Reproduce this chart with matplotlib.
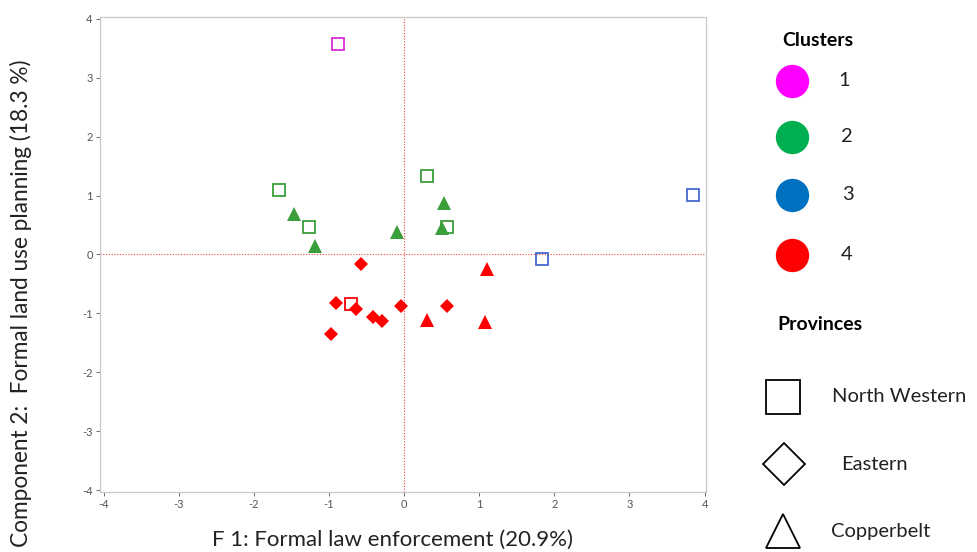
import matplotlib
matplotlib.use("Agg")
import matplotlib.pyplot as plt

plt.rcParams["font.family"] = ["Lato", "DejaVu Sans"]
plt.rcParams["axes.unicode_minus"] = False

# cluster colours (plot markers) and legend colours
CLUSTER_NAMES = ["1", "2", "3", "4"]
MARK_COLORS = ["#D62FD6", "#3A9E3A", "#4468D0", "#FF0000"]
LEGEND_COLORS = ["#FF00FF", "#00B050", "#0070C0", "#FF0000"]

PROVINCES = ["North Western", "Eastern", "Copperbelt"]

# North Western (hollow squares): (x, y, cluster)
nw_x = [-0.88, -1.66, -1.27, 0.30, 0.57, 1.83, 3.85, -0.71]
nw_y = [3.57, 1.10, 0.46, 1.33, 0.47, -0.08, 1.01, -0.84]
nw_c = [1, 2, 2, 2, 2, 3, 3, 4]

# Eastern (filled diamonds)
ea_x = [-0.57, -0.90, -0.64, -0.42, -0.30, -0.04, 0.57, -0.97]
ea_y = [-0.16, -0.82, -0.93, -1.06, -1.13, -0.87, -0.87, -1.35]
ea_c = [4, 4, 4, 4, 4, 4, 4, 4]

# Copperbelt (filled triangles)
cb_x = [-1.46, -1.19, -0.10, 0.53, 0.51, 1.11, 0.31, 1.08]
cb_y = [0.69, 0.14, 0.38, 0.88, 0.45, -0.25, -1.12, -1.15]
cb_c = [2, 2, 2, 2, 2, 4, 4, 4]

X_TICKS = [-4, -3, -2, -1, 0, 1, 2, 3, 4]
Y_TICKS = [-4, -3, -2, -1, 0, 1, 2, 3, 4]

fig = plt.figure(figsize=(9.78, 5.52), dpi=100)
ax = fig.add_axes([0.102, 0.109, 0.620, 0.860])

ax.axhline(0, color="#F04040", lw=0.8, ls=(0, (1, 1.5)), zorder=1)
ax.axvline(0, color="#F04040", lw=0.8, ls=(0, (1, 1.5)), zorder=1)

for x, y, c in zip(nw_x, nw_y, nw_c):
    ax.plot(x, y, "s", ms=8.5, mfc="none", mec=MARK_COLORS[c - 1], mew=1.3, zorder=3)
for x, y, c in zip(ea_x, ea_y, ea_c):
    ax.plot(x, y, "D", ms=7.2, color=MARK_COLORS[c - 1], mew=0, zorder=3)
for x, y, c in zip(cb_x, cb_y, cb_c):
    ax.plot(x, y, "^", ms=9.5, color=MARK_COLORS[c - 1], mew=0, zorder=3)

ax.set_xlim(-4.05, 4.02)
ax.set_ylim(-4.03, 4.03)
ax.set_xticks(X_TICKS)
ax.set_yticks(Y_TICKS)
ax.tick_params(labelsize=8, colors="#555555", length=3, width=0.6, pad=2)
for s in ax.spines.values():
    s.set_color("#C8C8C8")
    s.set_linewidth(0.9)

fig.text(0.021, 0.451, "Component 2:  Formal land use planning (18.3 %)",
         rotation=90, ha="center", va="center", fontsize=16.3, color="#222222")
fig.text(0.401, 0.022, "F 1: Formal law enforcement (20.9%)",
         ha="center", va="center", fontsize=16, color="#222222")

# legend drawn in pixel coordinates on the right
lg = fig.add_axes([720 / 978, 0, 258 / 978, 1])
lg.set_xlim(720, 978)
lg.set_ylim(552, 0)
lg.axis("off")

lg.text(782, 40, "Clusters", fontsize=14, fontweight="bold", va="center", ha="left")
circle_y = [81, 137, 195, 255]
label_x = [844, 847, 848, 847]
for name, col, cy, lx in zip(CLUSTER_NAMES, LEGEND_COLORS, circle_y, label_x):
    lg.plot(792, cy, "o", ms=24, color=col, mew=0, clip_on=False)
    lg.text(lx, cy, name, fontsize=14.5, va="center", ha="center", color="#222222")

lg.text(777, 325, "Provinces", fontsize=14, fontweight="bold", va="center", ha="left")
prov_marks = [("s", 24), ("D", 21), ("^", 25)]
prov_y = [397, 464, 531]
prov_mx = [783, 784.5, 783]
prov_tx = [832, 841, 831]
for name, (m, ms), py, mx, tx in zip(PROVINCES, prov_marks, prov_y, prov_mx, prov_tx):
    lg.plot(mx, py, m, ms=ms, mfc="white", mec="black", mew=1.3, clip_on=False)
    lg.text(tx, py, name, fontsize=14.5, va="center", ha="left", color="#222222")

fig.savefig("out.png", dpi=100, facecolor="white")
